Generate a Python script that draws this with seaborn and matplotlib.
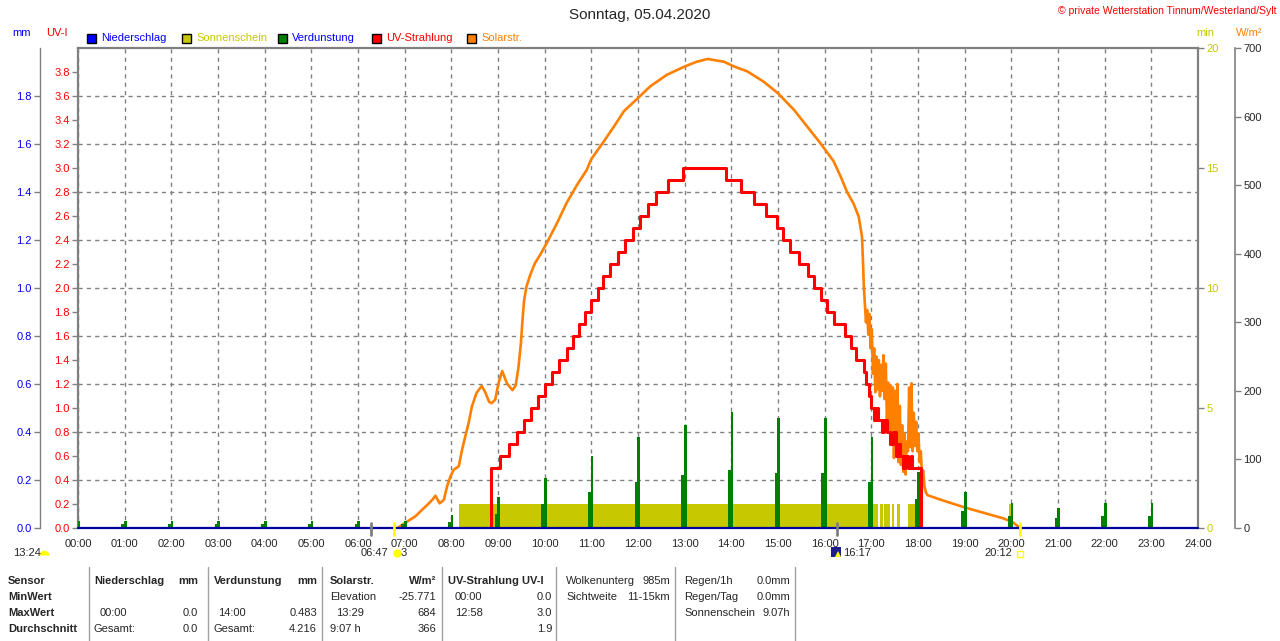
import matplotlib
matplotlib.use("Agg")
import matplotlib.pyplot as plt
from matplotlib.lines import Line2D
from matplotlib.patches import Rectangle
import seaborn as sns

# ---- data (times in hours) ----
uv_t = [0.0, 8.84, 9.04, 9.24, 9.40, 9.56, 9.71, 9.86, 10.01, 10.16, 10.31, 10.47, 10.61,
        10.73, 10.87, 10.99, 11.14, 11.26, 11.41, 11.58, 11.72, 11.89, 12.04, 12.21, 12.38,
        12.65, 12.96, 13.89, 14.21, 14.49, 14.74, 14.97, 15.10, 15.26, 15.44, 15.64, 15.78,
        15.93, 16.06, 16.20, 16.44, 16.56, 16.68, 16.85, 16.89, 16.95, 17.00, 17.06, 17.10,
        17.14, 17.22, 17.28, 17.34, 17.41, 17.47, 17.52, 17.58, 17.62, 17.68, 17.72, 17.78,
        17.85, 17.88, 18.06, 24.0]
uv_v = [0.0, 0.5, 0.6, 0.7, 0.8, 0.9, 1.0, 1.1, 1.2, 1.3, 1.4, 1.5, 1.6,
        1.7, 1.8, 1.9, 2.0, 2.1, 2.2, 2.3, 2.4, 2.5, 2.6, 2.7, 2.8,
        2.9, 3.0, 2.9, 2.8, 2.7, 2.6, 2.5, 2.4, 2.3, 2.2, 2.1, 2.0,
        1.9, 1.8, 1.7, 1.6, 1.5, 1.4, 1.3, 1.2, 1.1, 1.0, 0.9, 1.0,
        0.9, 0.8, 0.9, 0.8, 0.7, 0.8, 0.6, 0.7, 0.6, 0.5, 0.6, 0.5,
        0.6, 0.5, 0.0, 0.0]

solar_t = [6.85, 6.89, 7.00, 7.09, 7.23, 7.38, 7.49, 7.59, 7.66, 7.75, 7.84, 7.91, 7.98,
           8.05, 8.16, 8.23, 8.30, 8.37, 8.44, 8.54, 8.65, 8.72, 8.81, 8.86, 8.94, 9.01,
           9.09, 9.19, 9.31, 9.38, 9.44, 9.49, 9.53, 9.56, 9.61, 9.69, 9.79, 9.90, 10.04,
           10.26, 10.47, 10.69, 10.90, 11.00, 11.27, 11.49, 11.70, 12.00, 12.26, 12.62,
           13.00, 13.26, 13.49, 13.84, 14.06, 14.34, 14.69, 15.00, 15.34, 15.62, 15.91,
           16.19, 16.34, 16.48, 16.62, 16.73, 16.80, 16.82, 16.84,
           16.86, 16.885, 16.91, 16.935, 16.96, 16.985, 17.01, 17.035, 17.06, 17.085,
           17.11, 17.135, 17.16, 17.185, 17.21, 17.235, 17.26, 17.285, 17.31, 17.335,
           17.36, 17.385, 17.41, 17.435, 17.46, 17.485, 17.51, 17.535, 17.56, 17.585,
           17.61, 17.635, 17.66, 17.685, 17.71, 17.735, 17.76, 17.785, 17.81, 17.835,
           17.86, 17.885, 17.91, 17.935, 17.96, 17.985, 18.01, 18.035, 18.06, 18.085,
           18.11, 18.14, 18.17, 18.20, 18.54, 19.00, 19.47, 19.83, 20.04, 20.15, 20.20]
solar_v = [0, 2, 7, 11, 17, 27, 34, 41, 47, 36, 41, 61, 75,
           85, 90, 114, 134, 153, 177, 197, 207, 199, 184, 182, 187, 211,
           229, 211, 201, 208, 235, 269, 308, 332, 352, 369, 386, 398, 415,
           444, 474, 500, 522, 538, 564, 586, 608, 627, 644, 661,
           673, 680, 684, 680, 673, 666, 651, 634, 610, 586, 561,
           535, 513, 490, 473, 454, 425, 391, 352,
           330, 300, 318, 282, 312, 262, 290, 225, 262, 198,
           250, 202, 245, 192, 238, 200, 252, 188, 240, 152,
           212, 140, 208, 122, 205, 102, 200, 112, 210, 96,
           178, 92, 150, 82, 138, 78, 126, 112, 205, 118,
           211, 112, 168, 120, 155, 112, 138, 96, 112, 78,
           84, 60, 52, 48, 40, 30, 21, 14, 8, 2, 0]

verd_hours = [0, 1, 2, 3, 4, 5, 6, 7, 8, 9, 10, 11, 12, 13, 14, 15, 16, 17, 18, 19, 20, 21, 22, 23]
verd_peak = [0.03, 0.03, 0.03, 0.03, 0.03, 0.03, 0.03, 0.03, 0.055, 0.13, 0.21, 0.30,
             0.38, 0.43, 0.483, 0.46, 0.46, 0.38, 0.235, 0.15, 0.105, 0.083, 0.105, 0.105]
verd_side = [0.015, 0.015, 0.015, 0.015, 0.015, 0.015, 0.015, 0.015, 0.025, 0.06, 0.10, 0.15,
             0.19, 0.22, 0.24, 0.23, 0.23, 0.19, 0.12, 0.07, 0.05, 0.04, 0.05, 0.05]

sun_start = [8.17, 17.04, 17.19, 17.27, 17.44, 17.54, 17.79, 19.94]
sun_end = [16.97, 17.15, 17.24, 17.39, 17.49, 17.61, 17.94, 19.99]
sun_min = [1.0, 1.0, 1.0, 1.0, 1.0, 1.0, 1.0, 1.0]

rain_t = [0.0, 24.0]
rain_v = [0.0, 0.0]

event_times = [6.27, 6.77, 16.26, 20.19]
event_colors = ["#808080", "#ffff00", "#808080", "#ffff00"]

hour_labels = ["%02d:00" % h for h in range(25)]
uv_ticks = [round(0.2 * i, 1) for i in range(20)]
mm_ticks = [round(0.2 * i, 1) for i in range(10)]
min_ticks = [0, 5, 10, 15, 20]
w_ticks = [0, 100, 200, 300, 400, 500, 600, 700]

C_BLUE = "#0000ff"
C_SUN = "#c8c800"
C_GREEN = "#008000"
C_RED = "#ff0000"
C_ORANGE = "#ff8000"
C_GRAY = "#808080"

sns.set_style("white")
plt.rcParams["font.family"] = ["Liberation Sans", "DejaVu Sans"]
plt.rcParams["font.size"] = 8

W, H = 1280, 641
fig = plt.figure(figsize=(W / 100, H / 100), dpi=100)


def fx(x):
    return x / W


def fy(y):
    return 1 - y / H


L, R, T, B = 78, 1198, 48, 528
ax = fig.add_axes([fx(L), fy(B), (R - L) / W, (B - T) / H])

# host axis: sunshine minutes (right, olive)
ax.set_xlim(0, 24)
ax.set_ylim(0, 20)
ax.bar(sun_start, sun_min, width=[e - s for s, e in zip(sun_start, sun_end)],
       align="edge", color=C_SUN, linewidth=0)
ax.set_xticks(range(25))
ax.set_xticklabels(hour_labels)
ax.grid(axis="x", color=C_GRAY, linestyle=(0, (3, 3)), linewidth=1)
for yv in range(2, 20, 2):
    ax.axhline(yv, color=C_GRAY, linestyle=(0, (3, 3)), linewidth=1, zorder=0.5)
for s in ["top", "left", "right"]:
    ax.spines[s].set_visible(True)
    ax.spines[s].set_color(C_GRAY)
    ax.spines[s].set_linewidth(1.6)
ax.spines["bottom"].set_visible(False)
ax.set_zorder(1)

# solar radiation axis (far right, orange)
ax_w = ax.twinx()
ax_w.set_ylim(0, 700)
sns.lineplot(x=solar_t, y=solar_v, ax=ax_w, color=C_ORANGE, linewidth=1.9,
             estimator=None, sort=False)
ax_w.set_yticks(w_ticks)
ax_w.set_yticklabels([str(v) for v in w_ticks], color=C_ORANGE)
ax_w.spines["right"].set_position(("axes", 1 + 37 / (R - L)))
for s in ["top", "left", "bottom"]:
    ax_w.spines[s].set_visible(False)
ax_w.spines["right"].set_color(C_GRAY)
ax_w.spines["right"].set_linewidth(1.2)
ax_w.tick_params(axis="y", direction="out", length=4, width=1, color=C_GRAY, pad=2, labelsize=8)
ax_w.set_ylabel("")
ax_w.set_zorder(2)

# UV index axis (left, red)
ax_uv = ax.twinx()
ax_uv.set_ylim(0, 4)
sns.lineplot(x=uv_t, y=uv_v, ax=ax_uv, color=C_RED, linewidth=2.2,
             drawstyle="steps-post", estimator=None, sort=False)
ax_uv.yaxis.tick_left()
ax_uv.set_yticks(uv_ticks)
ax_uv.set_yticklabels(["%.1f" % v for v in uv_ticks], color=C_RED)
for s in ["top", "right", "bottom", "left"]:
    ax_uv.spines[s].set_visible(False)
ax_uv.tick_params(axis="y", direction="out", length=4, width=1, color=C_GRAY, pad=2, labelsize=8)
ax_uv.set_ylabel("")
ax_uv.set_zorder(3)

# precipitation / evaporation axis (outer left, blue)
ax_mm = ax.twinx()
ax_mm.set_ylim(0, 2)
ax_mm.bar([h - 0.04 for h in verd_hours], verd_side, width=0.06, color=C_GREEN, linewidth=0)
ax_mm.bar([h + 0.015 for h in verd_hours], verd_peak, width=0.06, color=C_GREEN, linewidth=0)
sns.lineplot(x=rain_t, y=rain_v, ax=ax_mm, color="#0000a0", linewidth=1.6, estimator=None)
ax_mm.lines[-1].set_clip_on(False)
ax_mm.yaxis.tick_left()
ax_mm.yaxis.set_label_position("left")
ax_mm.spines["left"].set_visible(True)
ax_mm.spines["left"].set_position(("axes", -38 / (R - L)))
ax_mm.spines["left"].set_color(C_GRAY)
ax_mm.spines["left"].set_linewidth(1.0)
for s in ["top", "right", "bottom"]:
    ax_mm.spines[s].set_visible(False)
ax_mm.set_yticks(mm_ticks)
ax_mm.set_yticklabels(["%.1f" % v for v in mm_ticks], color=C_BLUE)
ax_mm.tick_params(axis="y", direction="out", length=4, width=1, color=C_GRAY, pad=2, labelsize=8)
ax_mm.set_ylabel("")
ax_mm.set_zorder(4)

# twinx moved the host ticks to the left; put the minutes scale back on the right
ax.yaxis.tick_right()
ax.set_yticks(min_ticks)
ax.set_yticklabels([str(v) for v in min_ticks], color=C_SUN)
ax.tick_params(axis="both", direction="out", length=4, width=1, color=C_GRAY, pad=2, labelsize=8)
ax.tick_params(axis="x", pad=4)

# sun / moon event markers below the axis
for t, c in zip(event_times, event_colors):
    ax_mm.plot([t, t], [-0.03, 0.02], color=c, linewidth=2, clip_on=False)

# ---- header texts ----
fig.text(0.5, fy(15), "Sonntag, 05.04.2020", ha="center", va="center", fontsize=11)
fig.text(fx(1276), fy(11), "\u00a9 private Wetterstation Tinnum/Westerland/Sylt",
         ha="right", va="center", fontsize=7.5, color=C_RED)
fig.text(fx(22), fy(33), "mm", ha="center", va="center", color=C_BLUE)
fig.text(fx(57), fy(33), "UV-I", ha="center", va="center", color=C_RED)
fig.text(fx(1205), fy(33), "min", ha="center", va="center", color=C_SUN)
fig.text(fx(1249), fy(33), "W/m\u00b2", ha="center", va="center", color=C_ORANGE)

legend_items = [(87, "Niederschlag", C_BLUE, C_BLUE), (182, "Sonnenschein", C_SUN, C_SUN),
                (278, "Verdunstung", C_GREEN, C_BLUE), (372, "UV-Strahlung", C_RED, C_RED),
                (467, "Solarstr.", C_ORANGE, C_ORANGE)]
for x0, label, fc, tc in legend_items:
    fig.add_artist(Rectangle((fx(x0), fy(43)), 9 / W, 9 / H, facecolor=fc,
                             edgecolor="black", linewidth=1, transform=fig.transFigure))
    fig.text(fx(x0 + 14), fy(38), label, ha="left", va="center", color=tc)

# ---- labels under the x axis ----
fig.text(fx(13), fy(553), "13:24", ha="left", va="center")
fig.add_artist(Line2D([fx(44)], [fy(555)], marker="o", markersize=7, color="#ffff00",
                      fillstyle="top", markeredgewidth=0, transform=fig.transFigure))
fig.text(fx(388), fy(553), "06:47", ha="right", va="center")
fig.add_artist(Line2D([fx(397)], [fy(553)], marker="o", markersize=6, color="#ffff00",
                      markeredgewidth=0, transform=fig.transFigure))
fig.text(fx(401), fy(553), "3", ha="left", va="center")
fig.add_artist(Line2D([fx(836)], [fy(552)], marker="s", markersize=7, color="#1c1c8c",
                      markeredgewidth=0, transform=fig.transFigure))
fig.add_artist(Line2D([fx(838)], [fy(554)], marker="^", markersize=4, color="#ffff00",
                      markeredgewidth=0, transform=fig.transFigure))
fig.text(fx(843), fy(553), "16:17", ha="left", va="center")
fig.text(fx(1012), fy(553), "20:12", ha="right", va="center")
fig.add_artist(Line2D([fx(1020)], [fy(554)], marker="s", markersize=4, color="#ffff00",
                      markerfacecolor="none", markeredgewidth=1, transform=fig.transFigure))

# ---- summary table ----
row_y = [581, 597, 613, 629]
for xs in [89, 208, 322, 442, 556, 675, 795]:
    fig.add_artist(Line2D([fx(xs), fx(xs)], [fy(567), fy(641)], color="#a0a0a0",
                          linewidth=1, transform=fig.transFigure))

bold_left = [(8, 0, "Sensor"), (8, 1, "MinWert"), (8, 2, "MaxWert"), (8, 3, "Durchschnitt"),
             (94, 0, "Niederschlag"), (214, 0, "Verdunstung"), (330, 0, "Solarstr."),
             (448, 0, "UV-Strahlung UV-I")]
bold_right = [(198, 0, "mm"), (317, 0, "mm"), (436, 0, "W/m\u00b2")]
plain_left = [(100, 2, "00:00"), (94, 3, "Gesamt:"), (218, 2, "14:00"), (213, 3, "Gesamt:"),
              (330, 1, "Elevation"), (336, 2, "13:29"), (330, 3, "9:07 h"),
              (455, 1, "00:00"), (455, 2, "12:58"),
              (566, 0, "Wolkenunterg"), (566, 1, "Sichtweite"),
              (684, 0, "Regen/1h"), (684, 1, "Regen/Tag"), (684, 2, "Sonnenschein")]
plain_right = [(198, 2, "0.0"), (198, 3, "0.0"), (317, 2, "0.483"), (317, 3, "4.216"),
               (436, 1, "-25.771"), (436, 2, "684"), (436, 3, "366"),
               (552, 1, "0.0"), (552, 2, "3.0"), (552, 3, "1.9"),
               (670, 0, "985m"), (670, 1, "11-15km"),
               (790, 0, "0.0mm"), (790, 1, "0.0mm"), (790, 2, "9.07h")]
for x0, r, s in bold_left:
    fig.text(fx(x0), fy(row_y[r]), s, ha="left", va="center", fontweight="bold")
for x0, r, s in bold_right:
    fig.text(fx(x0), fy(row_y[r]), s, ha="right", va="center", fontweight="bold")
for x0, r, s in plain_left:
    fig.text(fx(x0), fy(row_y[r]), s, ha="left", va="center")
for x0, r, s in plain_right:
    fig.text(fx(x0), fy(row_y[r]), s, ha="right", va="center")

fig.savefig("out.png", dpi=100, facecolor="white")
